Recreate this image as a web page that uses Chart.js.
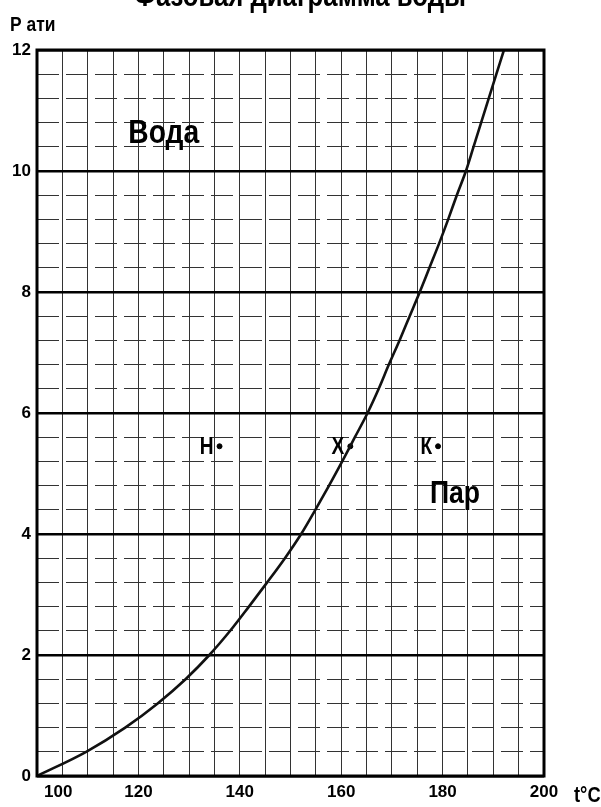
<!DOCTYPE html>
<html>
<head>
<meta charset="utf-8">
<script src="https://cdn.jsdelivr.net/npm/chart.js@4.4.1/dist/chart.umd.min.js"></script>
<style>
  html, body { margin: 0; padding: 0; background: #fff; }
  #wrap { width: 601px; height: 807px; position: relative; }
</style>
</head>
<body>
<div id="wrap"><canvas id="c" width="601" height="807"></canvas></div>
<script>
// ---- data ----
const titleText = 'Фазовая диаграмма воды';
const yAxisTitle = 'Р ати';
const xAxisTitle = 't°C';
const temperatures = [100, 109.7, 117.4, 123.8, 129.3, 134.0, 138.1, 141.8, 145.4, 148.9, 152.1, 154.9, 157.6, 160.2, 162.7, 165.2, 167.4, 169.4, 171.5, 173.5, 175.5, 177.4, 179.3, 181.1, 182.8, 184.6, 186.1, 187.6, 189.1, 190.6, 192.1];
const pressures    = [0,   0.4,   0.8,   1.2,   1.6,   2.0,   2.4,   2.8,   3.2,   3.6,   4.0,   4.4,   4.8,   5.2,   5.6,   6.0,   6.4,   6.8,   7.2,   7.6,   8.0,   8.4,   8.8,   9.2,   9.6,   10.0,  10.4,  10.8,  11.2,  11.6,  12.0];
const pointNames  = ['Н', 'Х', 'К'];
const pointTemps  = [136.0, 161.8, 179.1];
const pointPress  = [5.45, 5.45, 5.45];
const regionNames = ['Вода', 'Пар'];
const regionTemps = [118.0, 177.5];
const regionPress = [10.46, 4.51];
const xTickLabels = [100, 120, 140, 160, 180, 200];
const yTickLabels = [0, 2, 4, 6, 8, 10, 12];

const FONT = "'Liberation Sans', Arial, sans-serif";
const NARROW = 0.83;

function narrowText(ctx, text, x, y, size, align, baseline) {
  ctx.save();
  ctx.font = 'bold ' + size + 'px ' + FONT;
  ctx.textAlign = align;
  ctx.textBaseline = baseline || 'alphabetic';
  ctx.translate(x, y);
  ctx.scale(NARROW, 1);
  ctx.fillText(text, 0, 0);
  ctx.restore();
}

const extras = {
  id: 'extras',
  afterDraw(chart) {
    const ctx = chart.ctx;
    const a = chart.chartArea;
    const xs = chart.scales.x, ys = chart.scales.y;
    ctx.save();
    ctx.strokeStyle = '#000';
    ctx.lineWidth = 3;
    ctx.strokeRect(a.left, a.top, a.right - a.left, a.bottom - a.top);
    ctx.fillStyle = '#000';
    narrowText(ctx, titleText, 300, 6, 31, 'center');
    narrowText(ctx, yAxisTitle, 10, 31, 21, 'left');
    narrowText(ctx, xAxisTitle, 574, 802, 22, 'left');
    const rsize = [34, 32];
    regionNames.forEach((n, i) => {
      narrowText(ctx, n, xs.getPixelForValue(regionTemps[i]), ys.getPixelForValue(regionPress[i]), rsize[i], 'left');
    });
    pointNames.forEach((n, i) => {
      narrowText(ctx, n, xs.getPixelForValue(pointTemps[i]) - 6, ys.getPixelForValue(pointPress[i]) + 8, 23, 'right');
    });
    ctx.restore();
  }
};

new Chart(document.getElementById('c'), {
  type: 'scatter',
  data: {
    datasets: [
      {
        data: temperatures.map((t, i) => ({x: t, y: pressures[i]})),
        showLine: true,
        borderColor: '#111',
        borderWidth: 2.6,
        pointRadius: 0,
        cubicInterpolationMode: 'monotone',
        xAxisID: 'x', yAxisID: 'y'
      },
      {
        data: pointTemps.map((t, i) => ({x: t, y: pointPress[i]})),
        showLine: false,
        pointRadius: 2.5,
        pointBackgroundColor: '#000',
        pointBorderColor: '#000',
        xAxisID: 'x', yAxisID: 'y'
      }
    ]
  },
  options: {
    responsive: false,
    animation: false,
    events: [],
    layout: { padding: { left: 0, right: 57, top: 50, bottom: 0 } },
    plugins: { legend: { display: false }, tooltip: { enabled: false }, title: { display: false } },
    scales: {
      y: {
        type: 'linear', position: 'left', min: 0, max: 12,
        afterFit(s) { s.width = 37; s.paddingTop = 0; s.paddingBottom = 0; },
        afterBuildTicks(s) { s.ticks = yTickLabels.map(v => ({value: v})); },
        border: { display: false },
        grid: { color: '#000', lineWidth: 2.6, drawTicks: false, z: 0 },
        ticks: { padding: 6, color: '#000', font: { family: FONT, size: 17, weight: 'bold' } }
      },
      yMinor: {
        type: 'linear', position: 'left', min: 0, max: 12,
        afterFit(s) { s.width = 0; s.paddingTop = 0; s.paddingBottom = 0; },
        border: { display: false, dash: [22, 7] },
        grid: { color: '#333', lineWidth: 1, drawTicks: false, z: -1 },
        ticks: { display: false, stepSize: 0.4 }
      },
      x: {
        type: 'linear', position: 'bottom', min: 100, max: 200,
        afterFit(s) { s.height = 31; s.paddingLeft = 0; s.paddingRight = 0; },
        border: { display: false },
        grid: { color: '#333', lineWidth: 1, drawTicks: false, z: -1 },
        ticks: {
          stepSize: 5, autoSkip: false, maxRotation: 0, padding: 6, color: '#000',
          font: { family: FONT, size: 17, weight: 'bold' },
          callback(v) {
            if (!xTickLabels.includes(v)) return '';
            return v === 100 ? '         100' : String(v);
          }
        }
      }
    }
  },
  plugins: [extras]
});
</script>
</body>
</html>
